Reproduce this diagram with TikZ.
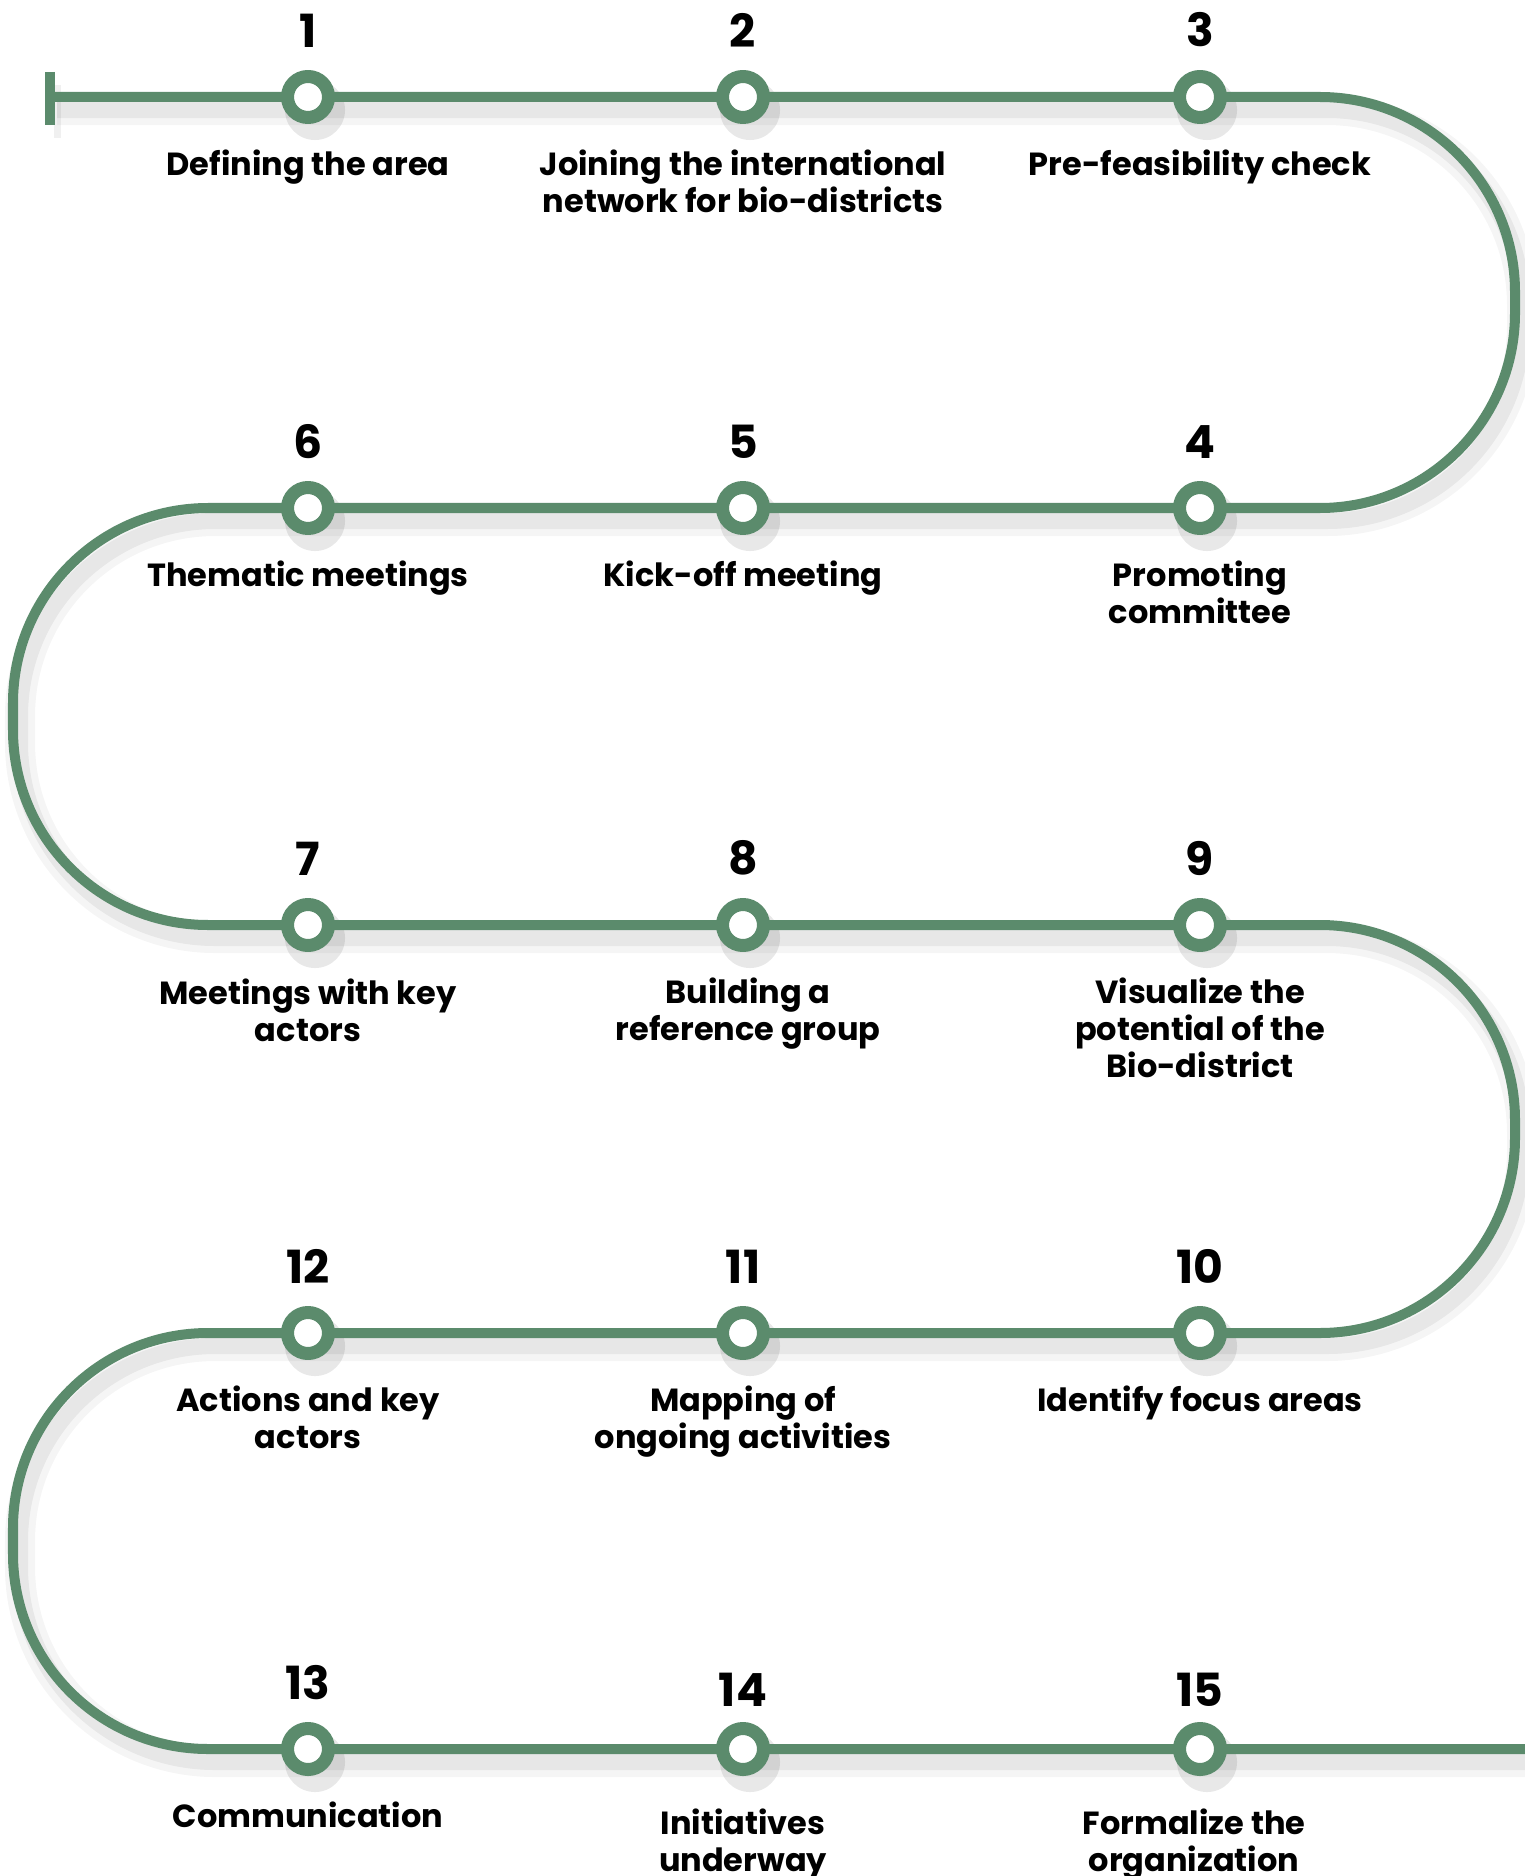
\documentclass[tikz,border=0pt]{standalone}
\usepackage{fontspec}
\setmainfont{Poppins}
\usetikzlibrary{positioning,backgrounds}
\definecolor{trackgreen}{RGB}{91,139,108}

\begin{document}
\begin{tikzpicture}[
  x=0.01cm, y=-0.01cm, line cap=round, line join=round,
  track/.style={draw=trackgreen, line width=0.1cm},
  stop/.style={circle, draw=trackgreen, fill=white, line width=0.13cm,
               minimum size=0.41cm, inner sep=0pt},
  num/.style={inner sep=0pt, font=\bfseries\fontsize{13}{15}\selectfont},
  lbl/.style={inner sep=0pt, align=center,
              font=\bfseries\fontsize{9.1}{10.6}\selectfont}
]
  \useasboundingbox (0,0) rectangle (1525,1876);

  % ── Stops along the track ─────────────────────────────────────────────
  \foreach \n/\x/\y in {1/308/97, 2/743/97, 3/1200/97,
                        4/1200/508, 5/743/508, 6/308/508,
                        7/308/925, 8/743/925, 9/1200/925,
                        10/1200/1333, 11/743/1333, 12/308/1333,
                        13/308/1749, 14/743/1749, 15/1200/1749}
    \node[stop] (s\n) at (\x,\y) {};

  % step numbers
  \foreach \n in {1,...,13}
    \node[num, above=0.49cm of s\n.center] (n\n) {\n};
  \node[num, above=0.42cm of s14.center] (n14) {14};
  \node[num, above=0.42cm of s15.center] (n15) {15};

  % step labels
  \node[lbl, below=0.52cm of s1.center]  (l1)  {Defining the area};
  \node[lbl, below=0.52cm of s2.center]  (l2)  {Joining the international\\network for bio-districts};
  \node[lbl, below=0.52cm of s3.center]  (l3)  {Pre-feasibility check};
  \node[lbl, below=0.52cm of s4.center]  (l4)  {Promoting\\committee};
  \node[lbl, below=0.52cm of s5.center]  (l5)  {Kick-off meeting};
  \node[lbl, below=0.52cm of s6.center]  (l6)  {Thematic meetings};
  \node[lbl, below=0.53cm of s7.center]  (l7)  {Meetings with key\\actors};
  \node[lbl, below=0.52cm of s8.center, xshift=0.05cm] (l8) {Building a\\reference group};
  \node[lbl, below=0.52cm of s9.center]  (l9)  {Visualize the\\potential of the\\Bio-district};
  \node[lbl, below=0.52cm of s10.center] (l10) {Identify focus areas};
  \node[lbl, below=0.52cm of s11.center] (l11) {Mapping of\\ongoing activities};
  \node[lbl, below=0.52cm of s12.center] (l12) {Actions and key\\actors};
  \node[lbl, below=0.52cm of s13.center] (l13) {Communication};
  \node[lbl, below=0.59cm of s14.center] (l14) {Initiatives\\underway};
  \node[lbl, below=0.59cm of s15.center, xshift=-0.06cm] (l15) {Formalize the\\organization};

  % ── Winding track ─────────────────────────────────────────────────────
  \coordinate (start)  at (50,97);
  \coordinate (finish) at (1545,1749);

  \begin{scope}[on background layer]
    \path[rounded corners=1.95cm, save path=\trackpath]
      (start) -- (1515,97) -- (1515,508) -- (13,508) -- (13,925)
      -- (1515,925) -- (1515,1333) -- (13,1333) -- (13,1749) -- (finish);

    % soft shadow
    \begin{scope}[transform canvas={shift={(0.07cm,-0.13cm)}}]
      \draw[black, opacity=.04, line width=0.30cm, use path=\trackpath];
      \draw[black, opacity=.06, line width=0.16cm, use path=\trackpath];
      \draw[black, opacity=.06, line width=0.07cm] (50,72) -- (50,125);
      \foreach \n in {1,...,15}
        \fill[black, opacity=.09] (s\n.center) circle (0.30cm);
    \end{scope}

    \draw[track, use path=\trackpath];
    \draw[track] (50,72) -- (50,125);
  \end{scope}
\end{tikzpicture}
\end{document}
